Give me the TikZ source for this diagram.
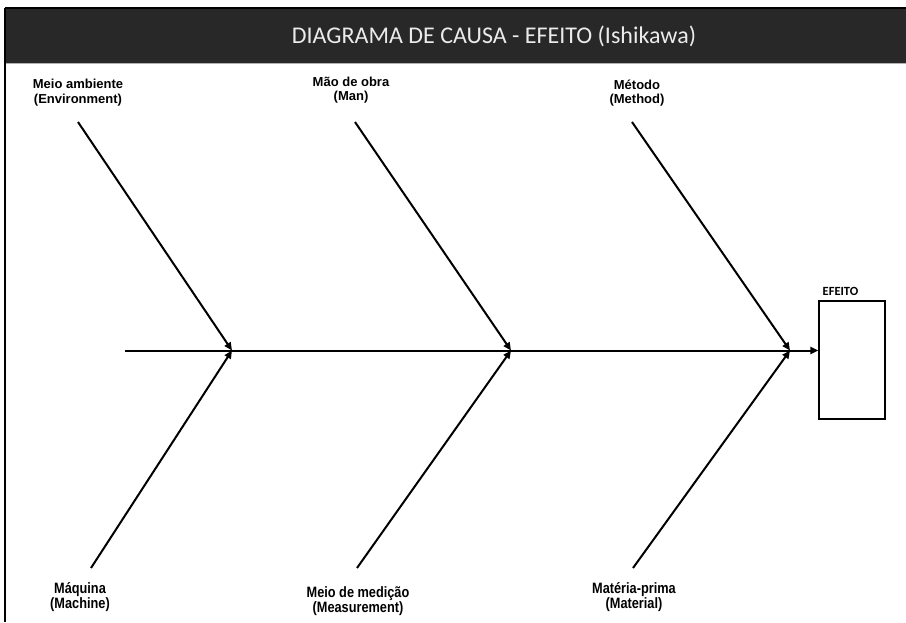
\documentclass[tikz,border=0pt]{standalone}
\usepackage{fontspec}
\setmainfont{Liberation Sans}
\newfontfamily\titlefont{Carlito}
\newfontfamily\narrowfont[FakeStretch=0.85]{Liberation Sans}
\usetikzlibrary{arrows.meta}
\definecolor{hdr}{HTML}{282828}
\begin{document}
\begin{tikzpicture}[x=1pt,y=-1pt,
  bone/.style={line width=2pt,-{Triangle[length=8pt,width=7pt]}},
  toplab/.style={font=\fontsize{13}{14.5}\selectfont\bfseries,align=center,inner sep=0pt},
  botlab/.style={font=\narrowfont\fontsize{15}{15}\selectfont\bfseries,align=center,inner sep=0pt}]
\useasboundingbox (0,0) rectangle (906,622);
\fill[white] (0,0) rectangle (906,622);
% header
\fill[hdr] (5,8) rectangle (906,63);
\draw[line width=2pt,black] (5,8) -- (906,8);
\draw[line width=1pt,gray!60] (5,63.5) -- (906,63.5);
\draw[line width=1.4pt] (5,8) -- (5,622);
\node[text=white!92!black,font=\titlefont\fontsize{24}{28}\selectfont] (title) at (494,36) {DIAGRAMA DE CAUSA - EFEITO (Ishikawa)};
% effect
\node[draw,line width=2pt,minimum width=65.5pt,minimum height=118.5pt,inner sep=0pt] (eff) at (852.2,360) {};
\node[font=\titlefont\fontsize{12.5}{14}\selectfont\bfseries,anchor=base west,inner sep=0pt] (efflab) at (822.5,295) {EFEITO};
% spine
\coordinate (tail) at (125,350.5);
\coordinate (j1) at (232,350.5);
\coordinate (j2) at (511,350.5);
\coordinate (j3) at (790,350.5);
\draw[line width=2pt] (tail) -- (j3);
\draw[bone] (j3) -- (eff.west |- j3);
% rib ends
\coordinate (t1) at (78,122);
\coordinate (t2) at (355,122);
\coordinate (t3) at (632,122);
\coordinate (b1) at (91,568);
\coordinate (b2) at (357,568);
\coordinate (b3) at (633,568);
\draw[bone] (t1) -- (j1);
\draw[bone] (t2) -- (j2);
\draw[bone] (t3) -- (j3);
\draw[bone] (b1) -- (j1);
\draw[bone] (b2) -- (j2);
\draw[bone] (b3) -- (j3);
% labels
\node[toplab] (l1) at (78,92.5) {Meio ambiente\\(Environment)};
\node[toplab] (l2) at (351,90) {Mão de obra\\(Man)};
\node[toplab] (l3) at (637,93) {Método\\(Method)};
\node[botlab] (l4) at (80,597.5) {Máquina\\(Machine)};
\node[botlab] (l5) at (358,601.5) {Meio de medição\\(Measurement)};
\node[botlab] (l6) at (634,597) {Matéria-prima\\(Material)};
\end{tikzpicture}
\end{document}
